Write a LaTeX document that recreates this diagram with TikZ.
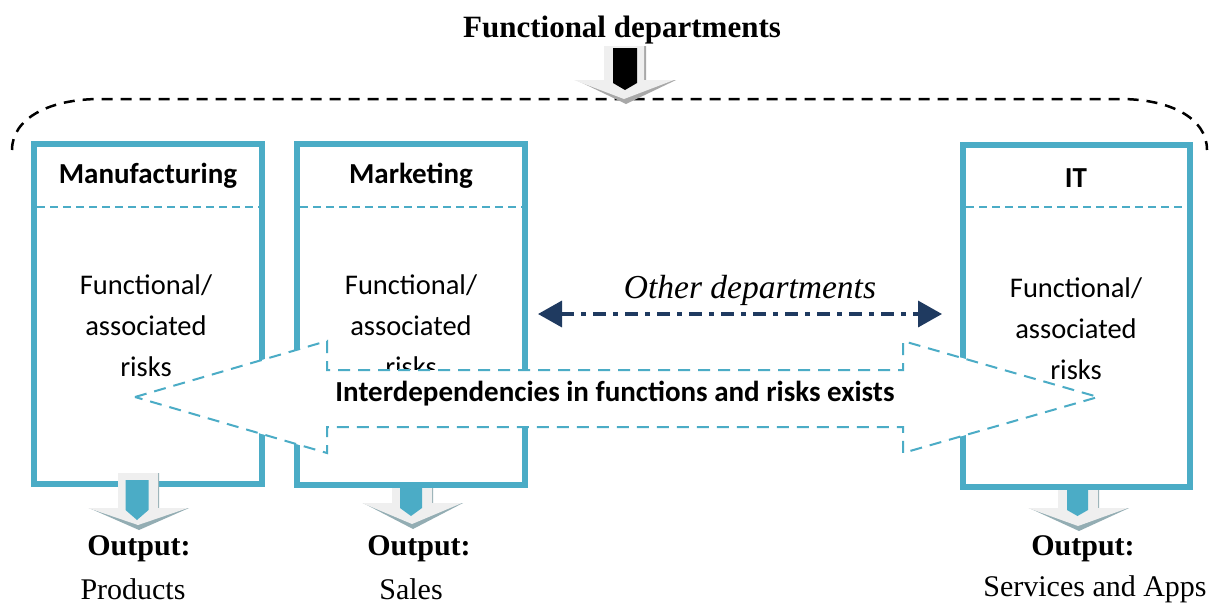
\documentclass[tikz,border=0pt]{standalone}
\usepackage{fontspec}
\setmainfont{Liberation Serif}
\newfontfamily\calfont{Carlito}
\usetikzlibrary{arrows.meta}
\definecolor{boxblue}{HTML}{4BACC6}
\definecolor{navy}{HTML}{1F3A60}
\definecolor{arrowlight}{HTML}{EFEFEF}
\definecolor{shadowblue}{HTML}{93ADB3}
\definecolor{shadowgray}{HTML}{A8A8A8}
\newcommand\blkarrow[7]{%
  \fill[#7] (#1-#3,#2) -- (#1+#3,#2) -- (#1+#3,#4) -- (#1+#5,#4) -- (#1,#6) -- (#1-#5,#4) -- (#1-#3,#4) -- cycle;}
\tikzset{
  deptbox/.style={draw=boxblue, line width=6pt, fill=white, inner sep=0pt},
  divider/.style={draw=boxblue, line width=2pt, dash pattern=on 8pt off 5pt},
  headtext/.style={font=\calfont\bfseries\fontsize{29}{35}\selectfont, inner sep=0pt},
  bodytext/.style={font=\calfont\fontsize{28.5}{41}\selectfont, align=center, inner sep=0pt},
  outhead/.style={font=\bfseries\fontsize{30}{36}\selectfont, inner sep=0pt},
  outtext/.style={font=\fontsize{30}{36}\selectfont, inner sep=0pt},
  bigarrow/.style={draw=boxblue, line width=2pt, fill=white, dash pattern=on 12pt off 8pt},
  odarrow/.style={draw=navy, line width=3.5pt, dash pattern=on 13pt off 7pt on 5pt off 7pt,
     {Triangle[length=24pt,width=26pt]}-{Triangle[length=24pt,width=26pt]}},
  arcline/.style={draw=black, line width=2.5pt, dash pattern=on 11pt off 8pt}
}
\begin{document}
\begin{tikzpicture}[x=1pt,y=-1pt]
\useasboundingbox[fill=white] (0,0) rectangle (1217,606);

% title
\node[font=\bfseries\fontsize{31}{36}\selectfont, inner sep=0pt] (title) at (622,30) {Functional departments};

% dashed brace arc
\draw[arcline] (12,150) .. controls (12,118) and (50,99) .. (100,99) -- (1120,99) .. controls (1170,99) and (1207,118) .. (1207,150);

% top block arrow
\blkarrow{626}{46}{20}{80}{50}{104}{shadowgray}
\blkarrow{624}{46}{20}{80}{50}{99}{arrowlight}
\blkarrow{625}{48}{12}{83}{12}{90}{black}

% bottom grey arrows behind Marketing and IT boxes
\blkarrow{413}{486}{20}{503}{50}{529}{shadowblue}
\blkarrow{412}{486}{20}{503}{50}{524}{arrowlight}
\blkarrow{1079}{486}{20}{508}{50}{531}{shadowblue}
\blkarrow{1078}{486}{20}{508}{50}{526}{arrowlight}

% department boxes
\node[deptbox, minimum width=228pt, minimum height=340pt] (mfg) at (148,314) {};
\node[deptbox, minimum width=228pt, minimum height=341pt] (mkt) at (411,314.5) {};
\node[deptbox, minimum width=227pt, minimum height=342pt] (it) at (1076.5,316) {};

\draw[divider] (37,207) -- (259,207);
\draw[divider] (300,207) -- (522,207);
\draw[divider] (966,207) -- (1187,207);

\node[headtext] (mfgh) at (148,176) {Manufacturing};
\node[headtext] (mkth) at (411,176) {Marketing};
\node[headtext] (ith) at (1076,178) {IT};

\node[bodytext] (mfgb) at (146,326) {Functional/\\associated\\risks};
\node[bodytext] (mktb) at (411,326) {Functional/\\associated\\risks};
\node[bodytext] (itb) at (1076,329) {Functional/\\associated\\risks};

% bottom arrow of Manufacturing (over the box border)
\blkarrow{139}{473}{20}{508}{50}{530}{shadowblue}
\blkarrow{138}{473}{20}{508}{50}{525}{arrowlight}
% inner blue arrows
\blkarrow{137}{480}{11.5}{510}{11.5}{520}{boxblue}
\blkarrow{411}{486}{11}{508}{11}{516}{boxblue}
\blkarrow{1077.5}{488}{10.5}{510}{10.5}{516}{boxblue}

% big double block arrow
\draw[bigarrow] (135,397) -- (327,341) -- (327,370) -- (903,370) -- (903,341) -- (1098,397)
   -- (903,453) -- (903,427) -- (327,427) -- (327,453) -- cycle;
\node[headtext] (inter) at (615,394) {Interdependencies in functions and risks exists};

% other departments
\coordinate (odL) at (538,314);
\coordinate (odR) at (942,314);
\draw[odarrow] (odL) -- (odR);
\node[font=\itshape\fontsize{33.5}{38}\selectfont, inner sep=0pt] (other) at (750,290) {Other departments};

% outputs
\node[outhead] (o1) at (139,549) {Output:};
\node[outhead] (o2) at (419,549) {Output:};
\node[outhead] (o3) at (1083,549) {Output:};
\node[outtext] (p1) at (133,589) {Products};
\node[outtext] (p2) at (411,589) {Sales};
\node[outtext] (p3) at (1095,589) {Services and Apps};
\end{tikzpicture}
\end{document}
